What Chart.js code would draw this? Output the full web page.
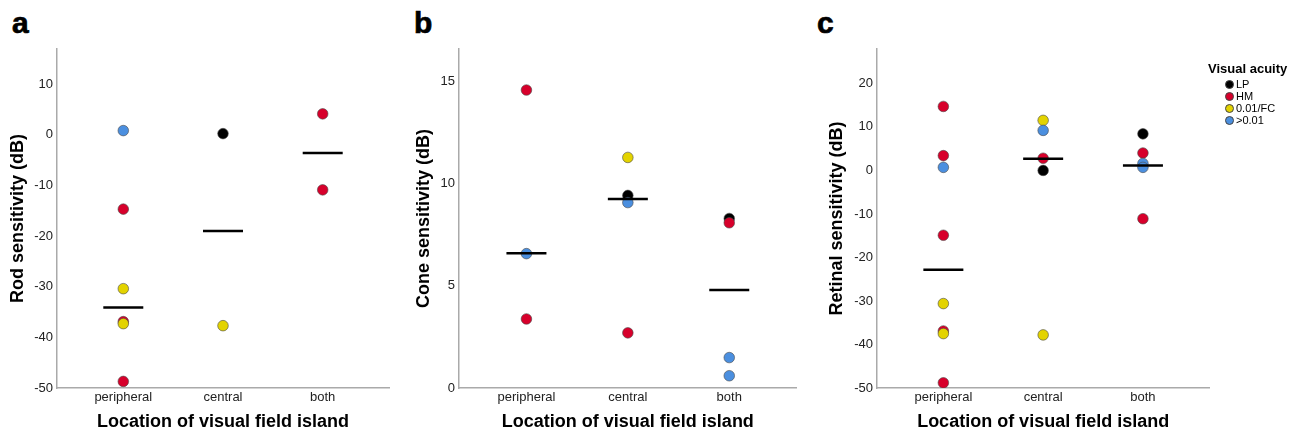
<!DOCTYPE html>
<html lang="en">
  <head>
    <meta charset="UTF-8" />
    <script src="https://cdn.jsdelivr.net/npm/chart.js"></script>
    <title>Visual field island sensitivity</title>
    <style>
      body { margin: 0; background: #fff; font-family: "Liberation Sans", Arial, sans-serif; }
      #wrap { position: relative; width: 1303px; height: 435px; overflow: hidden; }
      canvas { position: absolute; top: 0; }
      .letter { position: absolute; font-size: 30px; line-height: 30px; font-weight: bold; color: #000; -webkit-text-stroke: 0.7px #000; }
      #legend { position: absolute; left: 1208px; top: 61px; color: #000; }
      #legend .ttl { font-size: 13px; font-weight: bold; line-height: 16px; margin-bottom: 1px; }
      #legend .row { display: flex; align-items: center; height: 12px; margin-left: 17px; font-size: 11px; }
      #legend .dot { width: 7px; height: 7px; border-radius: 50%; border: 0.5px solid #444; margin-right: 2px; }
    </style>
  </head>
  <body>
    <div id="wrap">
      <div class="letter" style="left: 12px; top: 8px;">a</div>
      <div class="letter" style="left: 414px; top: 8px;">b</div>
      <div class="letter" style="left: 817px; top: 8px;">c</div>
      <canvas id="rodChart" width="420" height="435" style="left: 0px;"></canvas>
      <canvas id="coneChart" width="420" height="435" style="left: 402px;"></canvas>
      <canvas id="retChart" width="430" height="435" style="left: 820px;"></canvas>
      <div id="legend"></div>
    </div>
    <script>
      // categories on the x axis (plotted at 1, 2, 3)
      const categories = ['peripheral', 'central', 'both'];
      const groups = ['LP', 'HM', '0.01/FC', '>0.01'];

      // [category, dB] pairs
      const rodLP = [[2, 0.2]];
      const rodHM = [[1, -14.7], [1, -36.9], [1, -48.7], [3, 4.1], [3, -10.9]];
      const rodFC = [[1, -30.4], [1, -37.3], [2, -37.7]];
      const rodGT = [[1, 0.8]];
      const rodMedian = [-34.1, -19.0, -3.6];

      const coneLP = [[2, 9.43], [3, 8.3]];
      const coneHM = [[1, 14.59], [1, 3.38], [2, 2.7], [3, 8.09]];
      const coneFC = [[2, 11.29]];
      const coneGT = [[1, 6.58], [2, 9.08], [3, 1.49], [3, 0.6]];
      const coneMedian = [6.6, 9.25, 4.8];

      const retLP = [[2, 0], [3, 8.4]];
      const retHM = [[1, 14.7], [1, 3.4], [1, -14.9], [1, -36.9], [1, -48.8], [2, 2.8], [3, 4.0], [3, -11.1]];
      const retFC = [[1, -30.6], [1, -37.5], [2, 11.5], [2, -37.8]];
      const retGT = [[1, 0.7], [2, 9.2], [3, 1.6], [3, 0.7]];
      const retMedian = [-22.8, 2.7, 1.15];

      // tick labels
      const rodTicks = [-50, -40, -30, -20, -10, 0, 10];
      const coneTicks = [0, 5, 10, 15];
      const retTicks = [-50, -40, -30, -20, -10, 0, 10, 20];

      const colors = ['#000000', '#d7002b', '#e3d300', '#4b8fdf'];

      Chart.defaults.font.family = '"Liberation Sans", Arial, sans-serif';
      Chart.defaults.color = '#222';

      function pts(pairs) {
        return pairs.map(p => ({ x: p[0], y: p[1] }));
      }

      function makePanel(id, series, median, ticks, yMin, yMax, yTitle, padRight, titlePad) {
        const datasets = [{
          data: median.map((v, i) => ({ x: i + 1, y: v })),
          pointStyle: 'line',
          pointRadius: 20,
          pointBorderWidth: 2.5,
          pointBorderColor: '#000'
        }];
        // later groups are drawn on top, so push them first
        for (let g = series.length - 1; g >= 0; g--) {
          datasets.push({
            label: groups[g],
            data: pts(series[g]),
            pointRadius: 5.3,
            pointBackgroundColor: colors[g],
            pointBorderColor: '#4a4a4a',
            pointBorderWidth: 0.6
          });
        }

        new Chart(document.getElementById(id), {
          type: 'scatter',
          data: { datasets },
          options: {
            responsive: false,
            animation: false,
            layout: { padding: { top: 49, right: padRight, left: 0, bottom: 0 } },
            plugins: { legend: { display: false }, tooltip: { enabled: false } },
            scales: {
              x: {
                type: 'linear',
                min: 0.335,
                max: 3.665,
                afterBuildTicks: s => { s.ticks = categories.map((c, i) => ({ value: i + 1 })); },
                afterFit: s => { s.height = 47; },
                grid: { display: false, drawTicks: false },
                border: { display: true, color: '#aaaaaa', width: 1.5 },
                ticks: {
                  padding: 2,
                  font: { size: 13 },
                  callback: v => categories[Math.round(v) - 1]
                },
                title: {
                  display: true,
                  text: 'Location of visual field island',
                  color: '#000',
                  font: { size: 18, weight: 'bold' },
                  padding: { top: 0, bottom: 2.5 }
                }
              },
              y: {
                min: yMin,
                max: yMax,
                afterBuildTicks: s => { s.ticks = ticks.map(v => ({ value: v })); },
                afterFit: s => { s.width = 57; },
                grid: { display: false, drawTicks: false },
                border: { display: true, color: '#aaaaaa', width: 1.5 },
                ticks: { padding: 4, font: { size: 13 } },
                title: {
                  display: true,
                  text: yTitle,
                  color: '#000',
                  font: { size: 18, weight: 'bold' },
                  padding: { top: titlePad, bottom: 0 }
                }
              }
            }
          }
        });
      }

      makePanel('rodChart', [rodLP, rodHM, rodFC, rodGT], rodMedian, rodTicks, -50, 16.9,
        'Rod sensitivity (dB)', 31, 7);
      makePanel('coneChart', [coneLP, coneHM, coneFC, coneGT], coneMedian, coneTicks, 0, 16.6,
        'Cone sensitivity (dB)', 25.3, 10.8);
      makePanel('retChart', [retLP, retHM, retFC, retGT], retMedian, retTicks, -50, 27.9,
        'Retinal sensitivity (dB)', 40.7, 5.8);

      // legend for panel c
      const legend = document.getElementById('legend');
      legend.innerHTML = '<div class="ttl">Visual acuity</div>' +
        groups.map((g, i) =>
          '<div class="row"><span class="dot" style="background:' + colors[i] + '"></span>' + g + '</div>'
        ).join('');
    </script>
  </body>
</html>
